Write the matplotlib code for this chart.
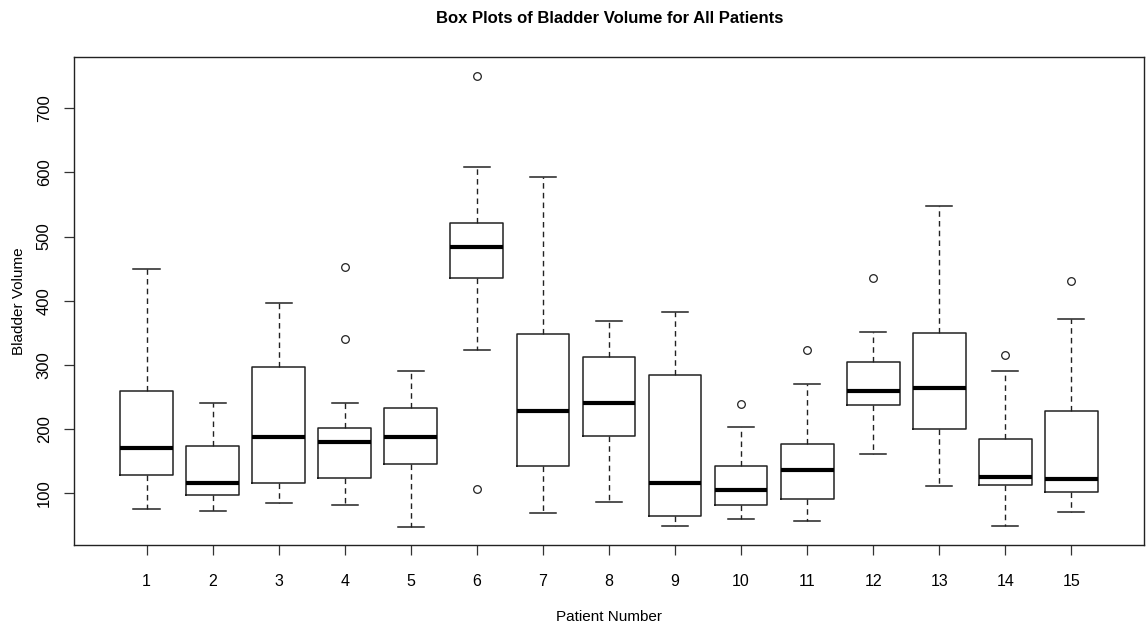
import matplotlib
matplotlib.use("Agg")
import matplotlib.pyplot as plt

# Five-number summaries (one entry per patient)
patients = list(range(1, 16))
whislo = [76, 73, 85, 81, 47, 324, 70, 86, 49, 60, 56, 161, 111, 49, 71]
q1 = [129, 98, 116, 123, 145, 435, 142, 190, 64, 81, 91, 238, 200, 113, 102]
med = [171, 116, 188, 180, 187, 483, 228, 240, 116, 105, 137, 260, 264, 126, 122]
q3 = [259, 174, 296, 201, 233, 521, 348, 312, 284, 142, 177, 304, 349, 185, 228]
whishi = [450, 240, 397, 240, 291, 609, 593, 369, 382, 203, 271, 351, 548, 291, 372]
fliers = [[], [], [], [340, 453], [], [106, 750], [], [], [], [239], [323], [435], [], [315], [430]]

plt.rcParams['font.family'] = ['Liberation Sans', 'DejaVu Sans']

stats = []
for i in range(len(patients)):
    stats.append(dict(whislo=whislo[i], q1=q1[i], med=med[i], q3=q3[i],
                      whishi=whishi[i], fliers=fliers[i], label=str(patients[i])))

fig = plt.figure(figsize=(11.46, 6.28), dpi=100)
ax = fig.add_axes([0.0646, 0.1322, 0.9336, 0.7766])

ax.bxp(stats, positions=patients, widths=0.8, showfliers=True,
       boxprops=dict(color='#222222', linewidth=1.1),
       medianprops=dict(color='black', linewidth=3, solid_capstyle='butt'),
       whiskerprops=dict(color='#222222', linewidth=1, linestyle=(0, (4, 3))),
       capprops=dict(color='#222222', linewidth=1.1),
       capwidths=0.4,
       flierprops=dict(marker='o', markerfacecolor='none', markeredgecolor='#222222',
                       markersize=5.5, markeredgewidth=0.9))

ax.set_xlim(-0.1, 16.1)
ax.set_ylim(19.4, 779.4)
ax.set_xticks(patients)
ax.set_xticklabels([str(p) for p in patients], fontsize=11.5)
ax.set_yticks([100, 200, 300, 400, 500, 600, 700])
ax.set_yticklabels(['100', '200', '300', '400', '500', '600', '700'],
                   rotation=90, va='center', fontsize=12)
ax.tick_params(axis='both', length=7, width=0.9, color='#333333')
ax.tick_params(axis='x', pad=14)
ax.tick_params(axis='y', pad=9)
for s in ax.spines.values():
    s.set_linewidth(1)
    s.set_color('#222222')

ax.set_xlabel('Patient Number', fontsize=11, labelpad=15)
ax.set_ylabel('Bladder Volume', fontsize=11, labelpad=8)
fig.text(0.532, 0.971, 'Box Plots of Bladder Volume for All Patients',
         ha='center', va='center', fontsize=12, fontweight='bold')

fig.savefig('out.png', dpi=100)
